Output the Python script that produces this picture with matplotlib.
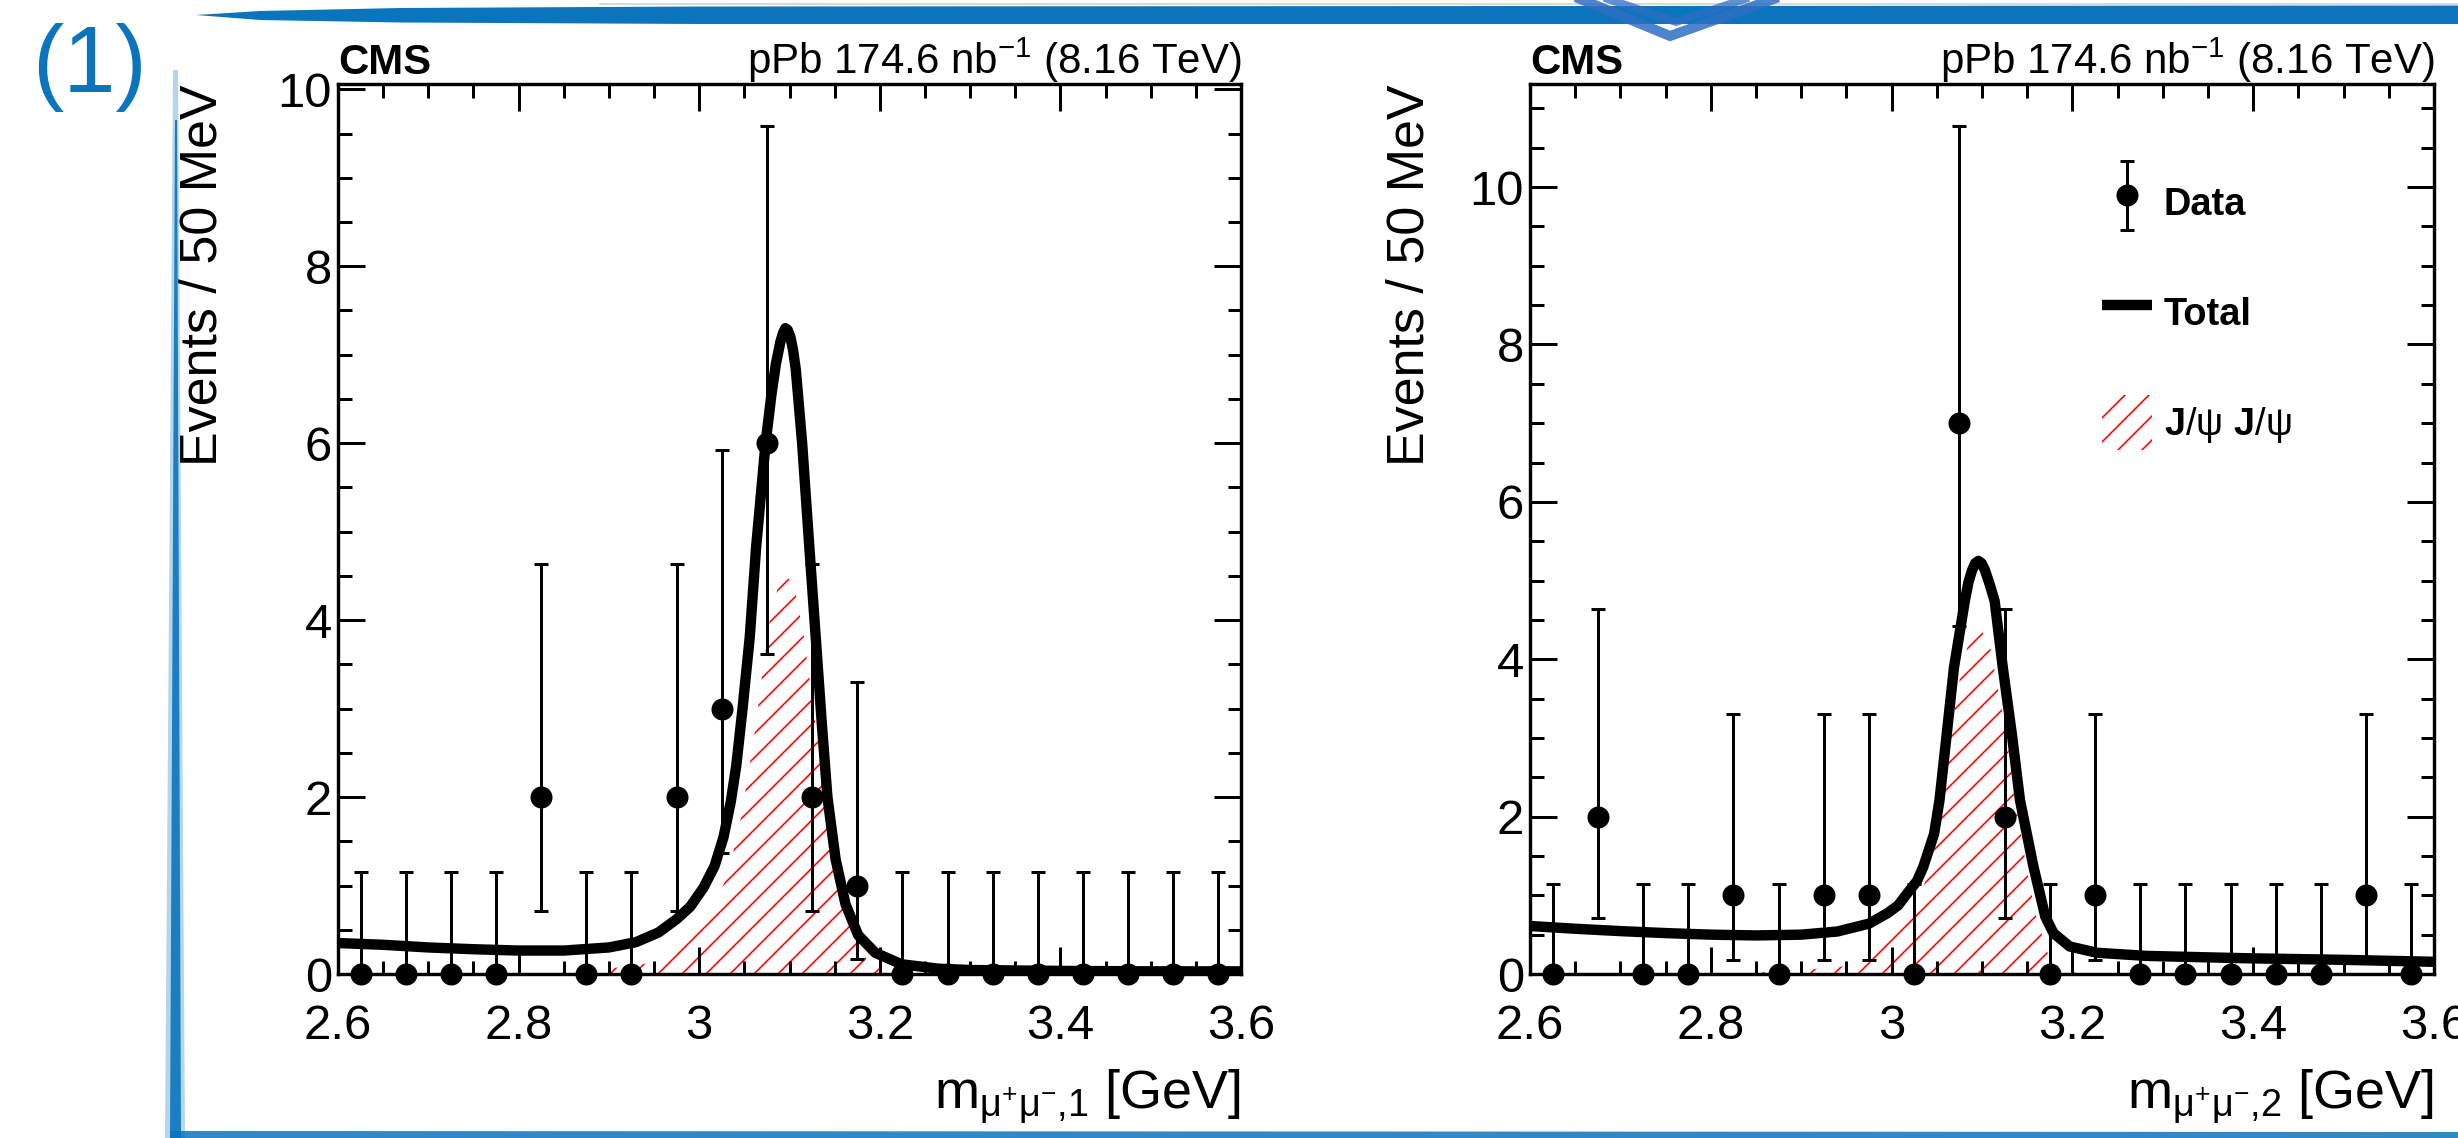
import matplotlib
matplotlib.use("Agg")
import matplotlib.pyplot as plt
from matplotlib.ticker import MultipleLocator, FuncFormatter
from matplotlib.patches import Polygon, Patch
from matplotlib.legend_handler import HandlerErrorbar

plt.rcParams.update({
    "font.family": "Liberation Sans",
    "mathtext.fontset": "custom",
    "mathtext.rm": "Liberation Sans",
    "mathtext.it": "Liberation Sans",
    "mathtext.bf": "Liberation Sans:bold",
    "hatch.linewidth": 0.8,
})

# ---- data -------------------------------------------------------------
bin_centers = [2.625, 2.675, 2.725, 2.775, 2.825, 2.875, 2.925, 2.975, 3.025, 3.075,
               3.125, 3.175, 3.225, 3.275, 3.325, 3.375, 3.425, 3.475, 3.525, 3.575]
counts_1 = [0, 0, 0, 0, 2, 0, 0, 2, 3, 6, 2, 1, 0, 0, 0, 0, 0, 0, 0, 0]
counts_2 = [0, 2, 0, 0, 1, 0, 1, 1, 0, 7, 2, 0, 1, 0, 0, 0, 0, 0, 1, 0]

# 68% Poisson (Garwood) interval for each observed count
poisson_band = {0: (0.0, 1.148), 1: (0.173, 3.300), 2: (0.708, 4.638),
                3: (1.367, 5.918), 6: (3.620, 9.584), 7: (4.419, 10.771)}

# fitted total pdf, projection on first dimuon
total_x_1 = [2.60, 2.65, 2.70, 2.75, 2.80, 2.85, 2.90, 2.93, 2.955, 2.975, 2.99, 3.005,
             3.017, 3.027, 3.035, 3.041, 3.048, 3.056, 3.063, 3.0735, 3.080, 3.085,
             3.090, 3.093, 3.0955, 3.098, 3.101, 3.104, 3.107, 3.114, 3.122, 3.129,
             3.136, 3.142, 3.151, 3.162, 3.176, 3.195, 3.224, 3.265, 3.30, 3.40,
             3.50, 3.60]
total_y_1 = [0.35, 0.33, 0.30, 0.28, 0.265, 0.265, 0.30, 0.36, 0.47, 0.62, 0.76, 0.98,
             1.22, 1.55, 1.95, 2.35, 3.00, 3.81, 4.82, 6.00, 6.55, 6.90,
             7.15, 7.25, 7.30, 7.28, 7.20, 7.05, 6.83, 6.00, 4.82, 3.81,
             2.80, 2.00, 1.30, 0.79, 0.44, 0.24, 0.11, 0.06, 0.045, 0.035,
             0.03, 0.03]
# J/psi J/psi component, first dimuon
sig_x_1 = [2.80, 2.85, 2.90, 2.95, 2.985, 3.010, 3.024, 3.031, 3.037, 3.045, 3.055,
           3.0625, 3.070, 3.079, 3.088, 3.096, 3.105, 3.116, 3.129, 3.143, 3.158,
           3.173, 3.187, 3.20, 3.22, 3.25]
sig_y_1 = [0.0, 0.02, 0.06, 0.13, 0.46, 0.75, 0.95, 1.10, 1.35, 1.70, 2.30,
           2.80, 3.41, 4.06, 4.40, 4.50, 4.40, 3.81, 2.80, 1.80, 0.99,
           0.39, 0.14, 0.06, 0.02, 0.0]

# fitted total pdf, projection on second dimuon
total_x_2 = [2.60, 2.65, 2.70, 2.75, 2.80, 2.85, 2.90, 2.94, 2.975, 2.995, 3.007,
             3.017, 3.028, 3.035, 3.047, 3.053, 3.061, 3.069, 3.081, 3.085, 3.089,
             3.0925, 3.096, 3.0995, 3.103, 3.108, 3.114, 3.123, 3.133, 3.142, 3.157,
             3.170, 3.179, 3.197, 3.227, 3.282, 3.393, 3.50, 3.60]
total_y_2 = [0.61, 0.575, 0.545, 0.52, 0.50, 0.49, 0.50, 0.54, 0.64, 0.77, 0.87,
             1.02, 1.18, 1.36, 1.78, 2.21, 3.05, 3.895, 4.74, 4.98, 5.13,
             5.22, 5.25, 5.22, 5.14, 4.97, 4.74, 3.895, 3.05, 2.21, 1.36,
             0.73, 0.52, 0.35, 0.27, 0.23, 0.20, 0.18, 0.155]
# J/psi J/psi component, second dimuon
sig_x_2 = [2.80, 2.85, 2.90, 2.95, 2.975, 2.9956, 3.0056, 3.020, 3.035, 3.046, 3.0554,
           3.0654, 3.0757, 3.086, 3.097, 3.109, 3.127, 3.137, 3.149, 3.160, 3.175,
           3.19, 3.21]
sig_y_2 = [0.0, 0.02, 0.05, 0.10, 0.20, 0.40, 0.52, 0.78, 1.10, 1.49, 2.21,
           3.05, 3.77, 4.25, 4.42, 4.15, 3.05, 2.21, 1.36, 0.73, 0.18,
           0.05, 0.0]

y_max = [10.06, 11.31]
lumi_label = r"pPb 174.6 nb$^{\mathregular{-1}}$ (8.16 TeV)"
x_labels = [r"$\mathregular{m_{\mu^{+}\mu^{-}{,}1}}$ [GeV]",
            r"$\mathregular{m_{\mu^{+}\mu^{-}{,}2}}$ [GeV]"]

# ---- figure -----------------------------------------------------------
W, H, DPI = 2458, 1138, 144
fig = plt.figure(figsize=(W / DPI, H / DPI), dpi=DPI)
fig.patch.set_facecolor("white")

ax1 = fig.add_axes([338 / W, 1 - 974 / H, 903 / W, 890 / H])
ax2 = fig.add_axes([1530 / W, 1 - 974 / H, 904 / W, 890 / H])


def style_axes(ax, ymax):
    ax.set_xlim(2.6, 3.6)
    ax.set_ylim(0, ymax)
    ax.xaxis.set_major_locator(MultipleLocator(0.2))
    ax.xaxis.set_minor_locator(MultipleLocator(0.05))
    ax.yaxis.set_major_locator(MultipleLocator(2))
    ax.yaxis.set_minor_locator(MultipleLocator(0.5))
    ax.xaxis.set_major_formatter(FuncFormatter(lambda v, p: f"{v:g}"))
    ax.yaxis.set_major_formatter(FuncFormatter(lambda v, p: f"{v:g}"))
    ax.tick_params(which="both", direction="in", top=True, right=True,
                   width=1.5, labelsize=24.5, color="black")
    ax.tick_params(which="major", length=13.5)
    ax.tick_params(which="minor", length=6.75)
    ax.tick_params(axis="x", which="major", pad=15)
    ax.tick_params(axis="y", which="major", pad=3)
    for sp in ax.spines.values():
        sp.set_linewidth(1.7)


def draw_panel(ax, counts, tx, ty, sx, sy, ymax, xlabel, ylabel_x):
    style_axes(ax, ymax)
    sig = ax.fill_between(sx, 0, sy, facecolor="none", edgecolor="red",
                          hatch="//", linewidth=0, zorder=1)
    line, = ax.plot(tx, ty, color="black", lw=5.2, solid_joinstyle="round",
                    solid_capstyle="butt", zorder=2)
    lo = [c - poisson_band[c][0] for c in counts]
    hi = [poisson_band[c][1] - c for c in counts]
    eb = ax.errorbar(bin_centers, counts, yerr=[lo, hi], fmt="o", color="black",
                     ms=10, elinewidth=1.5, capsize=3.5, capthick=1.5, zorder=3)
    eb[0].set_clip_on(False)
    ax.set_ylabel("Events / 50 MeV", fontsize=26, loc="top")
    ax.yaxis.set_label_coords(ylabel_x, 1.0)
    ax.set_xlabel(xlabel, fontsize=27, loc="right")
    ax.xaxis.set_label_coords(1.0, -0.105)
    ax.text(0.0, 1.011, "CMS", transform=ax.transAxes, fontsize=21,
            fontweight="bold", ha="left", va="baseline")
    ax.text(1.0, 1.011, lumi_label, transform=ax.transAxes, fontsize=21,
            ha="right", va="baseline")
    return eb, line, sig


draw_panel(ax1, counts_1, total_x_1, total_y_1, sig_x_1, sig_y_1,
           y_max[0], x_labels[0], -0.122)
eb2, line2, _ = draw_panel(ax2, counts_2, total_x_2, total_y_2, sig_x_2, sig_y_2,
                           y_max[1], x_labels[1], -0.106)

sig_handle = Patch(facecolor="none", edgecolor="red", hatch="//", linewidth=0)
ax2.legend([eb2, line2, sig_handle],
           ["Data", "Total", r"$\mathbf{J}\mathrm{/\psi}\ \mathbf{J}\mathrm{/\psi}$"],
           loc="upper left", bbox_to_anchor=(0.633, 0.897), frameon=False,
           prop={"weight": "bold", "size": 19}, handlelength=1.32,
           handleheight=1.84, handletextpad=0.3, labelspacing=1.45,
           borderpad=0, borderaxespad=0,
           handler_map={eb2: HandlerErrorbar(yerr_size=0.9)})

# ---- slide frame ------------------------------------------------------
blue = "#0a75bc"
deco = fig.add_axes([0, 0, 1, 1], zorder=5)
deco.set_xlim(0, W)
deco.set_ylim(H, 0)
deco.axis("off")
deco.patch.set_visible(False)

deco.plot([600, W], [4, 4], color="#c9d3dc", lw=0.8)
deco.add_patch(Polygon([(196, 15), (260, 11), (400, 8), (700, 6.5), (W, 5.5),
                        (W, 24), (700, 24), (400, 22.5), (260, 20)],
                       closed=True, facecolor=blue, edgecolor="none"))
deco.add_patch(Polygon([(173, 70), (178, 70), (185, 1138), (165, 1138)],
                       closed=True, facecolor=blue, edgecolor="none", alpha=0.3))
deco.add_patch(Polygon([(175, 120), (177, 120), (181, 1138), (170, 1138)],
                       closed=True, facecolor=blue, edgecolor="none", alpha=0.9))
deco.add_patch(Polygon([(170, 1131), (W, 1132), (W, 1138), (170, 1138)],
                       closed=True, facecolor=blue, edgecolor="none", alpha=0.85))
# partial experiment logo peeking in at the top
logo_blue = "#2e6ec4"
deco.plot([1573, 1670, 1782], [-4, 36, -4], color=logo_blue, lw=5.0, alpha=0.85,
          solid_joinstyle="miter")
deco.plot([1605, 1676, 1748], [-2, 22, -2], color=logo_blue, lw=4.0, alpha=0.75,
          solid_joinstyle="miter")
deco.text(32, 92, "(1)", fontsize=47, color=blue, ha="left", va="baseline")

fig.savefig("out.png", dpi=DPI)
